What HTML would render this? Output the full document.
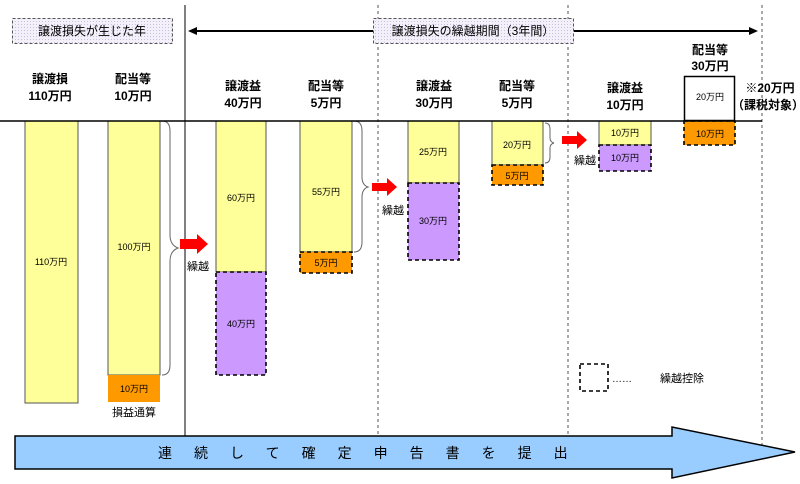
<!DOCTYPE html>
<html><head><meta charset="utf-8"><style>
html,body{margin:0;padding:0;background:#fff}
svg{display:block}
text{font-family:"Liberation Sans","Noto Sans CJK JP",sans-serif;fill:#000}
.h{font-size:12px;font-weight:bold;text-anchor:middle}
.s{font-size:9px;text-anchor:middle}
.y{fill:#ffff99;stroke:#555;stroke-width:1}
.p{fill:#cc99ff;stroke:#000;stroke-width:1.6;stroke-dasharray:4,3}
.o{fill:#ff9900;stroke:#000;stroke-width:1.6;stroke-dasharray:4,3}
.br{fill:none;stroke:#666;stroke-width:1}
</style></head><body>
<svg width="800" height="484" viewBox="0 0 800 484" xmlns="http://www.w3.org/2000/svg">
<defs>
<pattern id="dt" width="3" height="3" patternUnits="userSpaceOnUse"><rect width="3" height="3" fill="#f4f0fa"/><rect width="1" height="1" fill="#c8bfe0"/></pattern>
</defs>
<line x1="185" y1="5" x2="185" y2="436" stroke="#000" stroke-width="1"/>
<line x1="378" y1="5" x2="378" y2="436" stroke="#555" stroke-dasharray="3,3"/>
<line x1="568" y1="5" x2="568" y2="436" stroke="#555" stroke-dasharray="3,3"/>
<line x1="762" y1="5" x2="762" y2="452" stroke="#555" stroke-dasharray="3,3"/>
<rect x="12.5" y="18.5" width="160" height="25" fill="url(#dt)" stroke="#555" stroke-dasharray="3,2"/>
<text x="92" y="35" style="font-size:12px;text-anchor:middle">譲渡損失が生じた年</text>
<rect x="373.5" y="18.5" width="200" height="25" fill="url(#dt)" stroke="#555" stroke-dasharray="3,2"/>
<text x="473" y="35" style="font-size:12px;text-anchor:middle">譲渡損失の繰越期間（3年間）</text>
<line x1="195" y1="31" x2="373" y2="31" stroke="#000" stroke-width="2"/>
<polygon points="188,31 197,27 197,35" fill="#000"/>
<line x1="574" y1="31" x2="750" y2="31" stroke="#000" stroke-width="2"/>
<polygon points="758,31 749,27 749,35" fill="#000"/>
<text class="h" x="50" y="83">譲渡損</text><text class="h" x="50" y="100">110万円</text>
<text class="h" x="133" y="83">配当等</text><text class="h" x="133" y="100">10万円</text>
<text class="h" x="243" y="90">譲渡益</text><text class="h" x="243" y="107">40万円</text>
<text class="h" x="326" y="90">配当等</text><text class="h" x="326" y="107">5万円</text>
<text class="h" x="434" y="90">譲渡益</text><text class="h" x="434" y="107">30万円</text>
<text class="h" x="517" y="90">配当等</text><text class="h" x="517" y="107">5万円</text>
<text class="h" x="625" y="92">譲渡益</text><text class="h" x="625" y="109">10万円</text>
<text class="h" x="710" y="54">配当等</text><text class="h" x="710" y="70">30万円</text>
<text class="h" x="770" y="92">※20万円</text><text class="h" x="768" y="109">（課税対象）</text>
<rect class="y" x="25" y="121" width="53" height="282"/><text class="s" x="51" y="265">110万円</text>
<rect class="y" x="108" y="121" width="52" height="254"/><text class="s" x="134" y="250">100万円</text>
<rect x="108" y="375" width="52" height="27" fill="#ff9900"/><text class="s" x="134" y="392">10万円</text>
<text x="134" y="416" style="font-size:11px;text-anchor:middle">損益通算</text>
<path class="br" d="M162,121 q8,0 8,10 v104 q0,10 8,13 q-8,3 -8,13 v104 q0,10 -8,10"/>
<rect class="y" x="216" y="121" width="50" height="151"/><text class="s" x="241" y="201">60万円</text>
<rect class="p" x="216" y="272" width="50" height="103"/><text class="s" x="241" y="327">40万円</text>
<rect class="y" x="300" y="121" width="52" height="131"/><text class="s" x="326" y="195">55万円</text>
<rect class="o" x="300" y="252" width="52" height="21"/><text class="s" x="326" y="266">5万円</text>
<path class="br" d="M354,121 q8,0 8,10 v46 q0,8 6,10 q-6,2 -6,10 v45 q0,10 -8,10"/>
<rect class="y" x="408" y="121" width="51" height="62"/><text class="s" x="433" y="155">25万円</text>
<rect class="p" x="408" y="183" width="51" height="77"/><text class="s" x="433" y="224">30万円</text>
<rect class="y" x="492" y="121" width="51" height="44"/><text class="s" x="517" y="148">20万円</text>
<rect class="o" x="492" y="165" width="51" height="20"/><text class="s" x="517" y="179">5万円</text>
<path class="br" d="M545,123 q5,0 5,6 v9 q0,4 4,5 q-4,1 -4,5 v9 q0,6 -5,6"/>
<rect class="y" x="599" y="121" width="52" height="24"/><text class="s" x="625" y="136">10万円</text>
<rect class="p" x="599" y="145" width="52" height="26"/><text class="s" x="625" y="161">10万円</text>
<rect x="684.5" y="76.5" width="50" height="44" fill="#fff" stroke="#000" stroke-width="1.5"/><text class="s" x="710" y="100">20万円</text>
<rect class="o" x="684" y="121" width="51" height="24"/><text class="s" x="710" y="137">10万円</text>
<line x1="0" y1="121" x2="762" y2="121" stroke="#000" stroke-width="1.5"/>
<polygon points="180,239 197,239 197,234 208,244 197,254 197,249 180,249" fill="#ff0000"/>
<text x="198" y="270" style="font-size:11px;text-anchor:middle">繰越</text>
<polygon points="372,183 387,183 387,178 397,187 387,196 387,191 372,191" fill="#ff0000"/>
<text x="393" y="214" style="font-size:11px;text-anchor:middle">繰越</text>
<polygon points="562,136 577,136 577,131 587,140 577,149 577,144 562,144" fill="#ff0000"/>
<text x="585" y="164" style="font-size:11px;text-anchor:middle">繰越</text>
<rect x="580" y="364" width="28" height="27" fill="none" stroke="#000" stroke-width="1.6" stroke-dasharray="4,3"/>
<text x="612" y="382" style="font-size:10px">……</text>
<text x="660" y="382" style="font-size:11px">繰越控除</text>
<polygon points="15,436 672,436 672,427 795,452 672,478 672,469 15,469" fill="#99ccff" stroke="#000" stroke-width="1.5"/>
<text x="158" y="458" style="font-size:14px;letter-spacing:22px">連続して確定申告書を提出</text>
</svg>
</body></html>
